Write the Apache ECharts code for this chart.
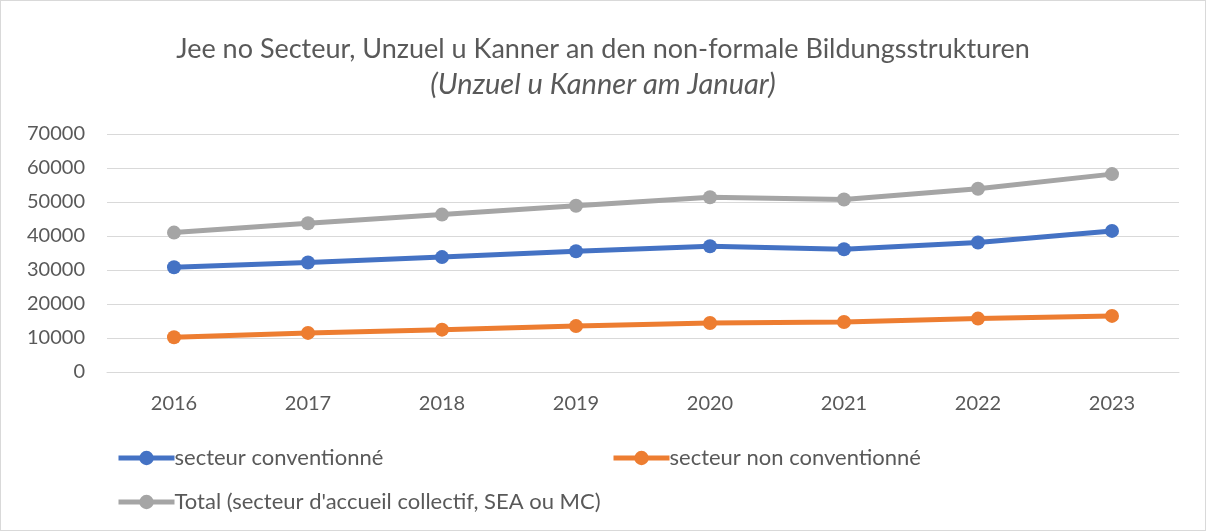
<!DOCTYPE html>
<html>
<head>
<meta charset="utf-8">
<script src="https://cdn.jsdelivr.net/npm/echarts@6/dist/echarts.min.js"></script>
<style>
  html, body { margin: 0; padding: 0; background: #fff; }
  #chart { width: 1206px; height: 531px; box-sizing: border-box; border: 1px solid #d9d9d9; }
</style>
</head>
<body>
<div id="chart"></div>
<script>
const years = ['2016', '2017', '2018', '2019', '2020', '2021', '2022', '2023']
const conventionne = [30800, 32200, 33800, 35500, 37000, 36100, 38100, 41500]
const nonConventionne = [10200, 11500, 12450, 13500, 14400, 14700, 15700, 16500]
const total = [41000, 43750, 46300, 48900, 51400, 50750, 53900, 58200]

const names = [
  'secteur conventionné',
  'secteur non conventionné',
  "Total (secteur d'accueil collectif, SEA ou MC)",
]
const colors = ['#4472c4', '#ed7d31', '#a5a5a5']
const font = 'Lato, "Open Sans", sans-serif'
const txt = '#595959'

const chart = echarts.init(document.getElementById('chart'))

const mkSeries = (name, data, color) => ({
  name,
  type: 'line',
  data,
  symbol: 'circle',
  symbolSize: 14,
  lineStyle: { width: 5, color },
  itemStyle: { color },
  animation: false,
})

const mkLegend = (name, left, top) => ({
  data: [name],
  left,
  top,
  itemWidth: 56,
  itemHeight: 18,
  lineStyle: { width: 5 },
  textStyle: { color: txt, fontSize: 22, fontFamily: font, padding: [0, 0, 0, -5] },
})

chart.setOption({
  backgroundColor: '#fff',
  title: {
    text: 'Jee no Secteur, Unzuel u Kanner an den non-formale Bildungsstrukturen',
    subtext: '(Unzuel u Kanner am Januar)',
    left: 'center',
    top: 30,
    itemGap: 7,
    textStyle: { color: txt, fontSize: 27, fontWeight: 'normal', fontFamily: font },
    subtextStyle: { color: txt, fontSize: 29, fontStyle: 'italic', fontFamily: font },
  },
  legend: [
    mkLegend(names[0], 110, 441),
    mkLegend(names[1], 605, 441),
    mkLegend(names[2], 110, 485),
  ],
  grid: { left: 106, right: 26, top: 133, bottom: 158 },
  xAxis: {
    type: 'category',
    data: years,
    axisLine: { lineStyle: { color: '#d9d9d9' } },
    axisTick: { show: false },
    axisLabel: { color: txt, fontSize: 20, fontFamily: font, margin: 22 },
  },
  yAxis: {
    type: 'value',
    min: 0,
    max: 70000,
    interval: 10000,
    axisLine: { show: false },
    axisTick: { show: false },
    splitLine: { lineStyle: { color: '#d9d9d9', width: 1 } },
    axisLabel: { color: txt, fontSize: 20, fontFamily: font, margin: 22, formatter: v => String(v) },
  },
  series: [
    mkSeries(names[0], conventionne, colors[0]),
    mkSeries(names[1], nonConventionne, colors[1]),
    mkSeries(names[2], total, colors[2]),
  ],
})
</script>
</body>
</html>
